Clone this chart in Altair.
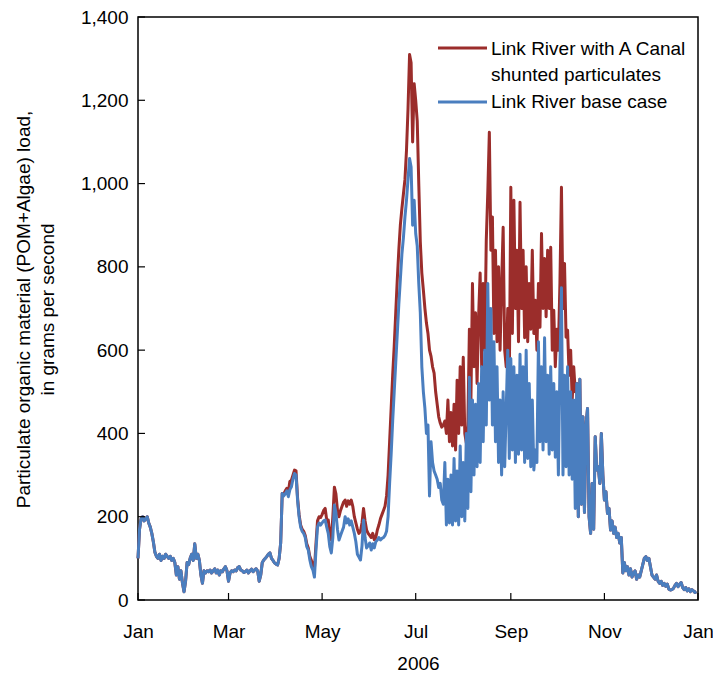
import altair as alt
import pandas as pd

# ---- data (daily values, 2006) ----
start_date = "2006-01-01"

# Link River base case, grams per second, one value per day
base_case = [
    100, 170, 195, 200, 190, 195, 200, 185, 175, 160,
    140, 115, 105, 100, 110, 95, 105, 100, 110, 105,
    100, 105, 95, 100, 90, 60, 80, 50, 70, 40,
    20, 45, 90, 85, 100, 110, 95, 135, 100, 110,
    95, 60, 40, 70, 65, 70, 68, 72, 65, 70,
    75, 65, 72, 60, 70, 68, 75, 80, 70, 45,
    65, 70, 68, 72, 70, 78, 80, 72, 70, 66,
    68, 72, 65, 70, 74, 68, 72, 75, 70, 45,
    60, 90, 96, 100, 105, 110, 113, 100, 95, 89,
    86, 84, 100, 137, 256, 250, 255, 262, 248, 265,
    272, 290, 304, 300, 240, 200, 175, 165, 160, 150,
    128, 120, 96, 80, 72, 55, 120, 175, 185, 180,
    185, 190, 192, 175, 160, 128, 113, 150, 228, 210,
    170, 144, 155, 165, 175, 200, 185, 195, 180, 190,
    175, 160, 140, 110, 103, 96, 130, 192, 150, 125,
    130, 137, 120, 135, 125, 140, 144, 150, 144, 148,
    150, 155, 165, 200, 280, 350, 430, 500, 570, 640,
    710, 770, 830, 870, 920, 960, 1010, 1060, 1040, 900,
    960, 880, 850, 760, 690, 560, 500, 460, 400, 420,
    250, 380, 330, 310, 300, 290, 270, 280, 240, 230,
    330, 180, 290, 185, 300, 180, 340, 190, 310, 180,
    370, 200, 330, 190, 400, 220, 535, 260, 480, 300,
    470, 320, 520, 330, 560, 380, 600, 420, 760, 480,
    700, 420, 620, 380, 560, 330, 480, 300, 500, 320,
    460, 600, 340, 580, 360, 560, 330, 540, 350, 590,
    360, 560, 330, 600, 340, 520, 320, 480, 312, 360,
    330, 620, 380, 560, 360, 630, 380, 540, 350, 560,
    360, 520, 343, 500, 300, 560, 750, 300, 540, 320,
    560, 300, 500, 290, 480, 220, 520, 200, 530, 230,
    440, 210, 420, 460, 200, 160, 280, 170, 392, 312,
    320, 280, 400, 300, 240, 260, 208, 220, 168, 190,
    160, 175, 150, 160, 137, 150, 65, 90, 70, 80,
    60, 75, 55, 65, 70, 50, 60, 55, 70, 85,
    100, 104, 95, 100, 80, 60, 55, 50, 60, 45,
    40, 45, 35, 40, 33, 38, 26, 24, 25, 28,
    35, 40, 32, 38, 42, 30, 25, 30, 22, 27,
    20, 25, 22, 18, 20,
]

# Link River with A Canal shunted particulates: identical to the base case
# except over the days listed below (day 95 onward)
shunted_first_day = 95
shunted_segment = [
    255, 262, 268, 260, 285,
    288, 300, 312, 310, 245, 205, 180, 170, 165, 155,
    135, 125, 104, 95, 85, 75, 135, 190, 200, 198,
    205, 215, 220, 192, 192, 160, 144, 200, 271, 255,
    216, 200, 215, 225, 235, 240, 225, 238, 230, 240,
    225, 200, 185, 170, 160, 165, 185, 220, 190, 168,
    160, 155, 150, 160, 145, 150, 168, 180, 195, 205,
    215, 225, 250, 300, 380, 460, 540, 610, 690, 770,
    840, 900, 940, 975, 1010, 1080, 1180, 1310, 1290, 1100,
    1240, 1200, 1150, 1000, 860, 785, 744, 700, 665, 640,
    600, 585, 560, 545, 500, 470, 440, 425, 415, 420,
    430, 400, 480, 380, 450, 370, 470, 360, 528, 400,
    560, 420, 583, 400, 377, 420, 650, 480, 760, 560,
    690, 520, 680, 785, 560, 760, 600, 864, 980, 1123,
    840, 920, 640, 840, 620, 800, 600, 760, 895, 600,
    560, 700, 520, 991, 640, 960, 700, 840, 620, 955,
    700, 840, 630, 800, 620, 760, 650, 840, 640, 720,
    600, 760, 655, 880, 700, 820, 680, 840, 700, 847,
    600, 696, 560, 650, 600, 760, 991, 700, 808, 631,
    648, 540, 600, 480, 560, 500, 520,
]

series_names = ["Link River with A Canal shunted particulates", "Link River base case"]
y_tick_values = [0, 200, 400, 600, 800, 1000, 1200, 1400]
x_tick_dates = ["2006-01-01", "2006-03-01", "2006-05-01", "2006-07-01",
                "2006-09-01", "2006-11-01", "2007-01-01"]

# ---- build table ----
shunted = (base_case[:shunted_first_day] + shunted_segment
           + base_case[shunted_first_day + len(shunted_segment):])
dates = pd.date_range(start_date, periods=len(base_case), freq="D").strftime("%Y-%m-%d").tolist()
df = pd.DataFrame({
    "date": dates * 2,
    "value": shunted + base_case,
    "series": [series_names[0]] * len(dates) + [series_names[1]] * len(dates),
})
xticks_df = pd.DataFrame({"date": x_tick_dates})
yticks_df = pd.DataFrame({"v": y_tick_values})
one = pd.DataFrame({"k": [0]})

RED = "#9B2D2B"
BLUE = "#4A7EBF"
W, H = 560, 583
FONT = "Liberation Sans"
LW = 3.0

def dt(s):
    y, m, d = map(int, s.split("-"))
    return alt.DateTime(year=y, month=m, date=d)

x_enc = alt.X(
    "date:T",
    scale=alt.Scale(domain=[dt("2006-01-01"), dt("2007-01-01")], nice=False),
    axis=alt.Axis(
        values=[dt(s) for s in x_tick_dates], format="%b", ticks=False, domain=False,
        grid=False, labelFlush=False, labelAlign="center", labelOverlap=False,
        labelPadding=22, labelFontSize=19, labelFont=FONT, labelColor="black",
        title="2006", titleFontSize=19, titleFont=FONT, titleFontWeight="normal",
        titleColor="black", titleY=54, titleBaseline="top",
    ),
)
y_enc = alt.Y(
    "value:Q",
    scale=alt.Scale(domain=[0, 1400], nice=False),
    axis=alt.Axis(
        values=y_tick_values, format=",.0f", ticks=False, domain=False, grid=False,
        labelFlush=False, labelOverlap=False,
        labelPadding=10, labelFontSize=19, labelFont=FONT, labelColor="black",
        title=["Particulate organic material (POM+Algae) load,", "in grams per second"],
        titleFontSize=19, titleFont=FONT, titleFontWeight="normal", titleColor="black",
        titleAngle=270, titleX=-124, titleY=292, titleBaseline="top", titleAlign="center",
        titleLineHeight=24,
    ),
)

base = alt.Chart(df)
red_line = base.transform_filter(alt.datum.series == series_names[0]).mark_line(
    color=RED, strokeWidth=LW, interpolate="linear", strokeJoin="round"
).encode(x=x_enc, y=y_enc)
blue_line = base.transform_filter(alt.datum.series == series_names[1]).mark_line(
    color=BLUE, strokeWidth=LW, interpolate="linear", strokeJoin="round"
).encode(x="date:T", y="value:Q")

xticks = alt.Chart(xticks_df).mark_rule(color="black", strokeWidth=1.2).encode(
    x=alt.X("date:T"), y=alt.value(H), y2=alt.value(H - 7)
)
yticks = alt.Chart(yticks_df).mark_rule(color="black", strokeWidth=1.2).encode(
    y=alt.Y("v:Q"), x=alt.value(0), x2=alt.value(7)
)

leg_red = alt.Chart(one).mark_rule(color=RED, strokeWidth=3).encode(
    x=alt.value(300), x2=alt.value(349), y=alt.value(31)
)
leg_blue = alt.Chart(one).mark_rule(color=BLUE, strokeWidth=3).encode(
    x=alt.value(300), x2=alt.value(349), y=alt.value(85)
)
leg_t1 = alt.Chart(one).mark_text(
    text="Link River with A Canal", align="left", baseline="middle",
    font=FONT, fontSize=19, color="black"
).encode(x=alt.value(353), y=alt.value(32))
leg_t2 = alt.Chart(one).mark_text(
    text="shunted particulates", align="left", baseline="middle",
    font=FONT, fontSize=19, color="black"
).encode(x=alt.value(353), y=alt.value(58))
leg_t3 = alt.Chart(one).mark_text(
    text="Link River base case", align="left", baseline="middle",
    font=FONT, fontSize=19, color="black"
).encode(x=alt.value(353), y=alt.value(85))

chart = alt.layer(
    red_line, blue_line, xticks, yticks, leg_red, leg_blue, leg_t1, leg_t2, leg_t3
).properties(
    width=W, height=H,
    padding={"left": 138, "top": 17, "right": 15, "bottom": 75},
    autosize=alt.AutoSizeParams(type="none"),
    background="white",
).configure_view(stroke="black", strokeWidth=1.5)

chart.save("out.html", embed_options={"renderer": "svg", "actions": False})
